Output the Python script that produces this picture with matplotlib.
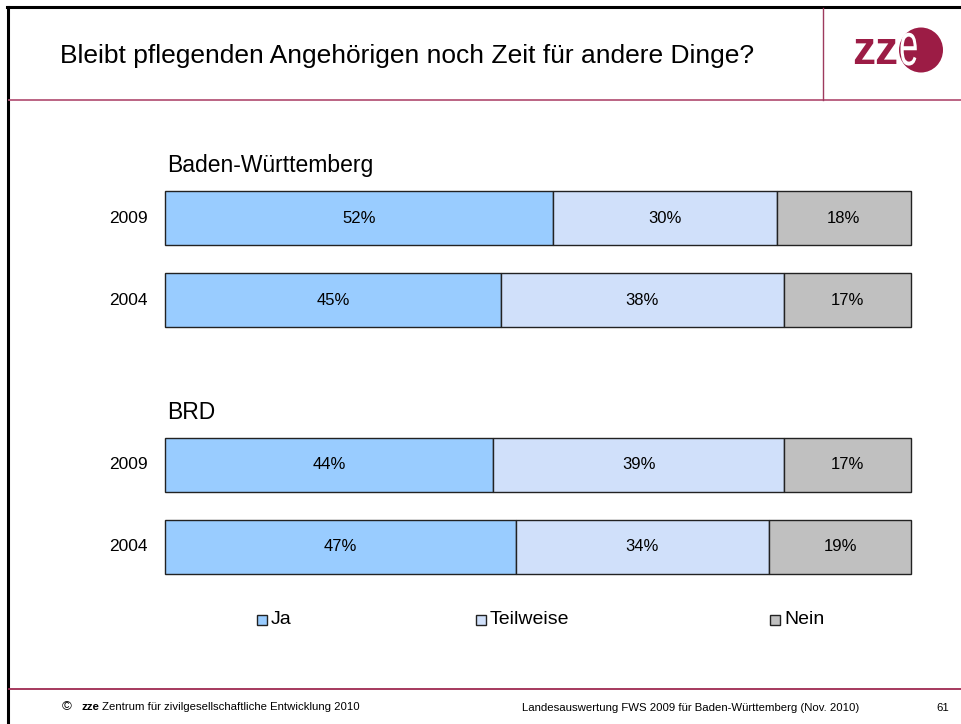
import matplotlib
matplotlib.use("Agg")
import matplotlib.pyplot as plt
from matplotlib.patches import Rectangle, Ellipse, PathPatch
from matplotlib.lines import Line2D
from matplotlib.textpath import TextPath
from matplotlib.font_manager import FontProperties
from matplotlib.transforms import Affine2D

plt.rcParams['font.family'] = ['Liberation Sans', 'DejaVu Sans']

# Data
years = ["2009", "2004", "2009", "2004"]
groups = ["Baden-Württemberg", "BRD"]
series = ["Ja", "Teilweise", "Nein"]
ja = [52, 45, 44, 47]
teilweise = [30, 38, 39, 34]
nein = [18, 17, 17, 19]
colors = ["#99CCFF", "#D0E0FA", "#C0C0C0"]

title = "Bleibt pflegenden Angehörigen noch Zeit für andere Dinge?"
footer_left = "Zentrum für zivilgesellschaftliche Entwicklung 2010"
footer_right = "Landesauswertung FWS 2009 für Baden-Württemberg (Nov. 2010)"
page = "61"

W, H = 962, 724
fig = plt.figure(figsize=(W / 100, H / 100), dpi=100)
fig.patch.set_facecolor("white")


def fx(px):
    return px / W


def fy(py):
    return 1 - py / H


# Slide frame and header/footer rules
burgundy = "#B5577A"
fig.add_artist(Line2D([fx(8), fx(8)], [fy(7), fy(724)], color="black", lw=2.2))
fig.add_artist(Line2D([fx(7), fx(962)], [fy(7), fy(7)], color="black", lw=2.2))
fig.add_artist(Line2D([fx(9), fx(962)], [fy(100), fy(100)], color=burgundy, lw=1.3))
fig.add_artist(Line2D([fx(823), fx(823)], [fy(8), fy(100)], color="#9E3A5E", lw=1.0))
fig.add_artist(Line2D([fx(9), fx(962)], [fy(689), fy(689)], color="#9E2A50", lw=1.3))

# Title
fig.text(fx(60), fy(56), title, fontsize=19, ha="left", va="center", color="black")

# Logo
logo_red = "#9C1C45"
fig.text(fx(852), fy(52), "zz", fontsize=33, fontweight="bold", color=logo_red,
         ha="left", va="center")
fig.add_artist(Ellipse((fx(921), fy(50)), 44 / W, 45 / H, transform=fig.transFigure,
                       color=logo_red, ec="none"))
e_path = TextPath((0, 0), "e", size=60, prop=FontProperties(family="Liberation Sans"))
e_tr = Affine2D().scale(0.58, 1.0).translate(899, H - 65)
fig.add_artist(PathPatch(e_path, transform=e_tr, facecolor="white", edgecolor="none"))

# Footer
fig.text(fx(62), fy(707), "©", fontsize=9.5, ha="left", va="center")
fig.text(fx(81), fy(707), "zze", fontsize=8.2, fontweight="bold", ha="left", va="center")
fig.text(fx(102), fy(707), footer_left, fontsize=8.2, ha="left", va="center")
fig.text(fx(522), fy(708), footer_right, fontsize=8.2, ha="left", va="center")
fig.text(fx(936), fy(708), page, fontsize=8.2, ha="left", va="center")

# Bars
ax_top, ax_bot = 191, 574
ax = fig.add_axes([fx(165), fy(ax_bot), fx(911) - fx(165), (ax_bot - ax_top) / H])
pos = [0, 1, 3, 4]
h = 0.66
left = [0] * 4
for vals, col in zip([ja, teilweise, nein], colors):
    bars = ax.barh(pos, vals, left=left, height=h, color=col, edgecolor="#222222",
                   linewidth=1.0, clip_on=False)
    for b, v in zip(bars, vals):
        ax.text(b.get_x() + b.get_width() / 2, b.get_y() + b.get_height() / 2,
                f"{v}%", ha="center", va="center", fontsize=12)
    left = [l + v for l, v in zip(left, vals)]

ax.set_xlim(0, 100)
ax.set_ylim(4 + h / 2, -h / 2)
ax.axis("off")

for p, yl in zip(pos, years):
    ax.text(-2.3, p, yl, ha="right", va="center", fontsize=12.5)

for gp, g in zip([-0.64, 2.36], groups):
    ax.text(0.3, gp, g, ha="left", va="center", fontsize=16.5)

# Legend
leg_x = [262, 481, 775]
for lx, name, col in zip(leg_x, series, colors):
    fig.add_artist(Rectangle((fx(lx - 5), fy(625)), 10 / W, 10 / H,
                             transform=fig.transFigure, facecolor=col,
                             edgecolor="#222222", lw=1.0))
    fig.text(fx(lx + 9), fy(620), name, fontsize=14, ha="left", va="center")

fig.savefig("out.png", dpi=100)
